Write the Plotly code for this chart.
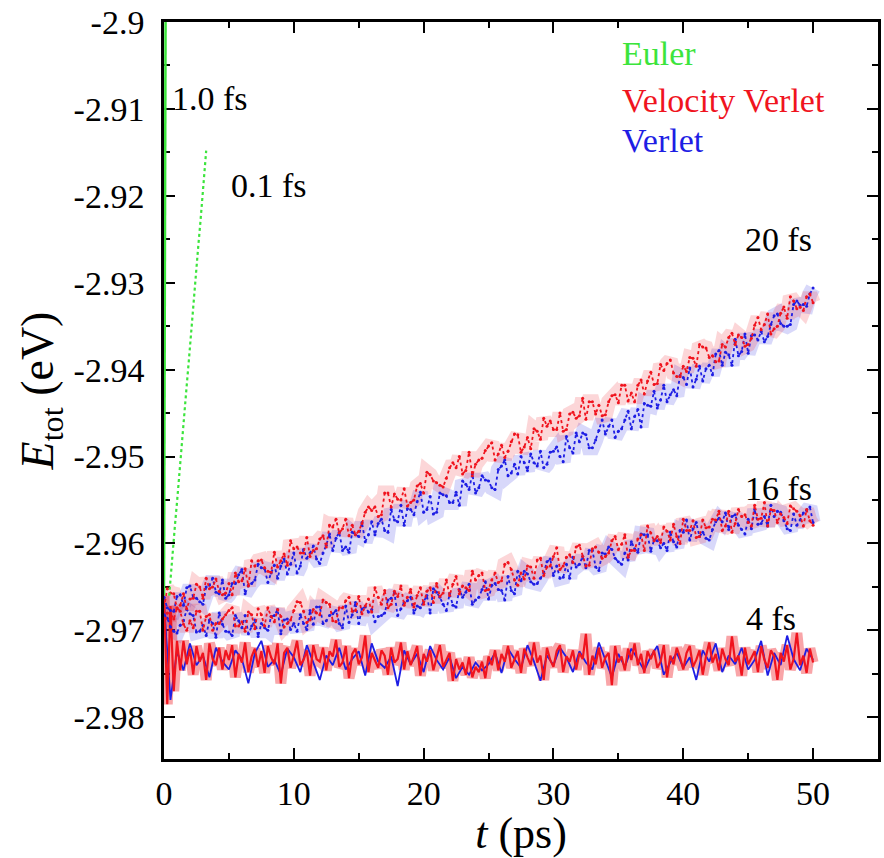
import numpy as np
import plotly.graph_objects as go

# ---------------- data ----------------
# All *_d arrays: energy below -2.9 eV in units of 1e-4 eV (E = -2.9 - d*1e-4)
t_q = np.arange(0, 50.001, 0.25)   # 0.25 ps sampling (201 points)
t_h = np.arange(0, 50.001, 0.5)    # 0.5 ps sampling (101 points)

# 20 fs, Velocity Verlet (red)
vv20_d = [674,652,657,658,675,671,658,675,664,663,
          647,650,663,640,652,650,641,655,659,657,
          646,659,634,644,643,629,649,620,626,620,
          619,628,632,633,610,627,620,612,625,597,
          606,604,611,611,593,615,608,606,595,591,
          604,579,581,572,588,583,572,591,579,590,
          586,577,564,558,562,558,569,567,542,542,
          558,543,549,550,537,557,553,550,534,531,
          542,518,521,528,530,533,535,525,513,507,
          513,500,520,516,495,522,509,504,502,493,
          488,484,504,497,487,501,494,483,474,475,
          495,489,478,491,468,471,480,456,465,459,
          469,469,450,471,469,451,449,456,453,433,
          457,437,437,451,441,453,452,437,430,429,
          438,418,418,436,427,437,418,412,428,413,
          403,417,416,394,401,393,389,404,408,408,
          396,402,386,387,396,371,374,375,386,384,
          391,390,371,374,363,358,371,360,363,373,
          371,364,349,340,354,348,336,359,353,350,
          335,328,341,316,321,330,328,332,316,313,
          323]
# 20 fs, Verlet (blue)
v20_d = [662,674,677,678,661,659,671,651,649,662,
         663,667,670,650,648,640,656,658,642,663,
         659,646,646,636,630,658,648,646,642,624,
         628,629,645,634,625,640,626,618,635,624,
         611,634,626,607,617,611,603,618,623,611,
         602,589,608,594,587,608,604,610,587,590,
         592,576,598,590,575,590,577,572,585,587,
         561,573,575,556,579,560,561,567,552,541,
         564,561,546,566,564,542,544,545,553,553,
         541,556,528,532,538,520,542,536,522,527,
         528,536,538,515,511,504,522,519,509,520,
         500,507,516,497,507,511,494,513,509,495,
         494,489,500,506,477,490,496,473,483,473,
         475,490,490,481,470,458,474,465,458,478,
         471,468,458,448,468,454,446,466,439,441,
         442,425,444,435,418,437,429,423,430,407,
         409,417,398,420,411,396,413,399,395,406,
         382,378,395,380,383,395,365,384,379,359,
         381,361,360,366,356,368,362,348,338,336,
         347,350,350,348,325,321,326,325,327,313,
         306]
# 16 fs, Velocity Verlet (red)
vv16_d = [695,680,681,687,674,678,693,700,689,697,
          678,678,700,684,682,700,692,692,687,682,
          677,674,695,695,690,701,679,682,698,675,
          682,695,674,684,690,676,684,696,692,688,
          677,667,668,678,691,688,676,680,682,665,
          668,670,689,690,674,674,666,662,678,677,
          661,681,672,664,679,651,662,670,654,674,
          670,655,661,649,671,662,653,673,660,651,
          670,655,651,668,646,661,657,642,660,647,
          638,658,649,651,654,632,642,637,634,654,
          653,642,634,645,643,624,622,630,642,648,
          634,641,626,627,640,619,617,637,627,626,
          615,605,630,626,616,613,622,604,602,615,
          626,625,606,604,610,617,615,611,597,592,
          607,601,590,616,608,608,595,590,608,580,
          588,597,592,599,581,586,596,578,592,600,
          572,585,585,574,593,592,573,582,581,572,
          573,563,585,580,563,587,577,561,569,567,
          576,580,556,572,571,553,580,561,562,576,
          566,570,577,557,560,563,568,580,561,574,
          579]
# 16 fs, Verlet (blue)
v16_d = [682,686,696,701,703,694,689,676,681,683,
         702,701,694,706,688,692,708,680,693,701,
         702,706,683,689,697,683,704,695,688,707,
         692,697,700,684,683,676,704,688,687,699,
         692,701,682,692,699,677,693,673,673,692,
         689,683,681,677,692,697,672,691,682,668,
         692,675,673,679,676,690,684,683,680,665,
         663,657,683,675,668,666,662,680,672,674,
         667,660,680,652,656,662,670,677,658,671,
         673,653,662,656,647,670,665,662,653,644,
         664,648,646,653,654,665,638,654,658,632,
         643,632,635,644,647,646,640,634,621,618,
         637,626,640,639,624,640,616,627,624,615,
         628,608,608,627,631,611,612,604,607,617,
         621,624,611,619,598,606,610,589,590,590,
         609,596,597,605,600,608,587,598,604,585,
         587,573,596,583,576,592,587,594,596,584,
         575,571,575,565,584,569,567,579,584,589,
         572,583,561,578,577,569,580,556,569,563,
         564,574,583,585,566,579,573,565,562,558,
         576]
# 4 fs, Velocity Verlet (red), 0.25 ps sampling
vv4_d = [660,785,672,770,712,746,712,739,721,751,
         718,736,726,757,715,733,740,720,745,723,
         734,717,754,727,737,714,748,730,721,742,
         724,749,718,731,739,715,761,726,720,743,
         729,712,740,734,723,752,717,733,736,720,
         746,724,730,711,742,737,718,755,727,721,
         739,731,706,748,726,734,743,723,729,751,
         720,737,733,714,745,724,740,730,718,752,
         727,736,723,746,731,717,742,734,726,758,
         733,745,737,751,731,754,742,748,736,755,
         730,740,723,746,727,736,718,743,733,724,
         749,721,731,740,714,737,729,757,720,734,
         742,724,717,748,730,736,723,745,726,733,
         704,751,729,739,720,743,731,726,763,718,
         737,730,746,721,734,715,740,727,749,724,
         733,723,743,736,717,754,729,739,720,731,
         745,726,718,742,734,723,751,730,714,737,
         727,746,721,733,740,707,736,729,752,720,
         739,731,724,748,718,734,743,723,730,757,
         726,736,717,745,733,703,740,729,749,721,
         737]
# 4 fs, Verlet (blue), 0.5 ps sampling
v4_d = [668,780,724,746,715,740,729,754,720,736,
        745,723,733,761,726,712,742,734,751,721,
        731,748,717,737,757,729,740,720,745,733,
        724,752,715,736,743,730,764,723,739,727,
        748,718,734,745,731,755,742,751,737,746,
        739,726,749,721,733,743,717,736,758,729,
        740,720,731,748,724,737,745,714,733,754,
        727,742,721,734,746,730,718,751,737,726,
        743,731,757,723,736,715,748,729,739,720,
        745,734,712,752,726,740,706,733,746,721,
        734]

# Euler runs (green), energies in eV
euler01_t = [0.40,0.55,0.70,0.85,1.00,1.15,1.30,1.45,1.60,1.75,
             1.90,2.05,2.20,2.35,2.50,2.65,2.80,2.95,3.10,3.25]
euler01_E = [-2.9660,-2.9630,-2.9608,-2.9578,-2.9553,-2.9524,-2.9500,-2.9470,-2.9446,-2.9418,
             -2.9392,-2.9363,-2.9338,-2.9311,-2.9285,-2.9256,-2.9231,-2.9203,-2.9178,-2.9148]
euler10_t = [0.00,0.02,0.04,0.06,0.08,0.10,0.12,0.14]
euler10_E = [-2.966,-2.955,-2.944,-2.933,-2.922,-2.911,-2.900,-2.889]

x_tick_vals = [0, 10, 20, 30, 40, 50]
x_tick_text = ["0", "10", "20", "30", "40", "50"]
x_minor_vals = [5, 15, 25, 35, 45]
y_tick_vals = [-2.98, -2.97, -2.96, -2.95, -2.94, -2.93, -2.92, -2.91, -2.90]
y_tick_text = ["-2.98", "-2.97", "-2.96", "-2.95", "-2.94", "-2.93", "-2.92", "-2.91", "-2.9"]
y_minor_vals = [-2.985, -2.975, -2.965, -2.955, -2.945, -2.935, -2.925, -2.915, -2.905]


def to_ev(d):
    return [-2.9 - v / 10000.0 for v in d]


RED = "rgb(240,20,30)"
BLUE = "rgb(30,30,228)"
GREEN = "rgb(60,228,60)"
FONT = "Liberation Serif"

fig = go.Figure()


def haze(x, y, color, w, op):
    fig.add_trace(go.Scatter(x=x, y=y, mode="lines", opacity=op,
                             line=dict(color=color, width=w),
                             showlegend=False, hoverinfo="skip"))


def cloud(x, y, color):
    fig.add_trace(go.Scatter(x=x, y=y, mode="lines+markers",
                             line=dict(color=color, width=1.8, dash="dot"),
                             marker=dict(color=color, size=3),
                             showlegend=False, hoverinfo="skip"))


def solid(x, y, color, w=1.3, dash="solid"):
    fig.add_trace(go.Scatter(x=x, y=y, mode="lines",
                             line=dict(color=color, width=w, dash=dash),
                             showlegend=False, hoverinfo="skip"))


# soft underlay giving the dense-noise band look
haze(t_q, to_ev(v20_d), BLUE, 15, 0.17)
haze(t_q, to_ev(vv20_d), RED, 15, 0.17)
haze(t_q, to_ev(v16_d), BLUE, 15, 0.17)
haze(t_q, to_ev(vv16_d), RED, 15, 0.17)
haze(t_q, to_ev(vv4_d), RED, 11, 0.38)

solid(t_h, to_ev(v4_d), BLUE, w=1.8)
solid(t_q, to_ev(vv4_d), RED, w=2.2)
cloud(t_q, to_ev(v16_d), BLUE)
cloud(t_q, to_ev(vv16_d), RED)
cloud(t_q, to_ev(v20_d), BLUE)
cloud(t_q, to_ev(vv20_d), RED)
solid(euler01_t, euler01_E, GREEN, w=2.2, dash="dot")
solid(euler10_t, euler10_E, GREEN, w=2.5)

ann_font = dict(family=FONT, size=34, color="black")
labels = [("1.0 fs", 0.45, -2.9088), ("0.1 fs", 5.0, -2.9188),
          ("20 fs", 44.6, -2.9250), ("16 fs", 44.6, -2.9537), ("4 fs", 44.7, -2.9686)]
for txt, x, y in labels:
    fig.add_annotation(x=x, y=y, xref="x", yref="y", text=txt, showarrow=False,
                       xanchor="left", yanchor="middle", font=ann_font)

legend_items = [("Euler", GREEN, -2.9036), ("Velocity Verlet", RED, -2.9090), ("Verlet", BLUE, -2.9136)]
for txt, col, y in legend_items:
    fig.add_annotation(x=35.1, y=y, xref="x", yref="y", text=txt, showarrow=False,
                       xanchor="left", yanchor="middle",
                       font=dict(family=FONT, size=34, color=col))

axis_common = dict(showline=True, linecolor="black", linewidth=2.5, mirror="allticks",
                   ticks="inside", ticklen=11, tickwidth=2, tickcolor="black",
                   showgrid=False, zeroline=False, layer="below traces",
                   ticklabeloverflow="allow", automargin=False,
                   tickfont=dict(family=FONT, size=34, color="black"))

fig.update_xaxes(range=[0, 55], tickmode="array", tickvals=x_tick_vals, ticktext=x_tick_text,
                 minor=dict(tickmode="array", tickvals=x_minor_vals, ticks="inside",
                            ticklen=6, tickwidth=2, tickcolor="black"),
                 title=dict(text="<i>t</i> (ps)", font=dict(family=FONT, size=44, color="black"),
                            standoff=13),
                 ticklabelstandoff=2, **axis_common)
fig.update_yaxes(range=[-2.9848, -2.9], tickmode="array", tickvals=y_tick_vals, ticktext=y_tick_text,
                 minor=dict(tickmode="array", tickvals=y_minor_vals, ticks="inside",
                            ticklen=6, tickwidth=2, tickcolor="black"),
                 title=dict(text="<i>E</i><sub>tot</sub> (eV)",
                            font=dict(family=FONT, size=46, color="black"), standoff=6),
                 ticklabelstandoff=10, **axis_common)

fig.update_layout(width=884, height=858, margin=dict(l=164, r=6, t=22, b=99),
                  plot_bgcolor="white", paper_bgcolor="white",
                  font=dict(family=FONT, color="black"))

# remove the default 8 px page margin so the figure fills the window exactly
fig.write_html("out.html", config={"displayModeBar": False},
               post_script="document.body.style.margin='0';")
